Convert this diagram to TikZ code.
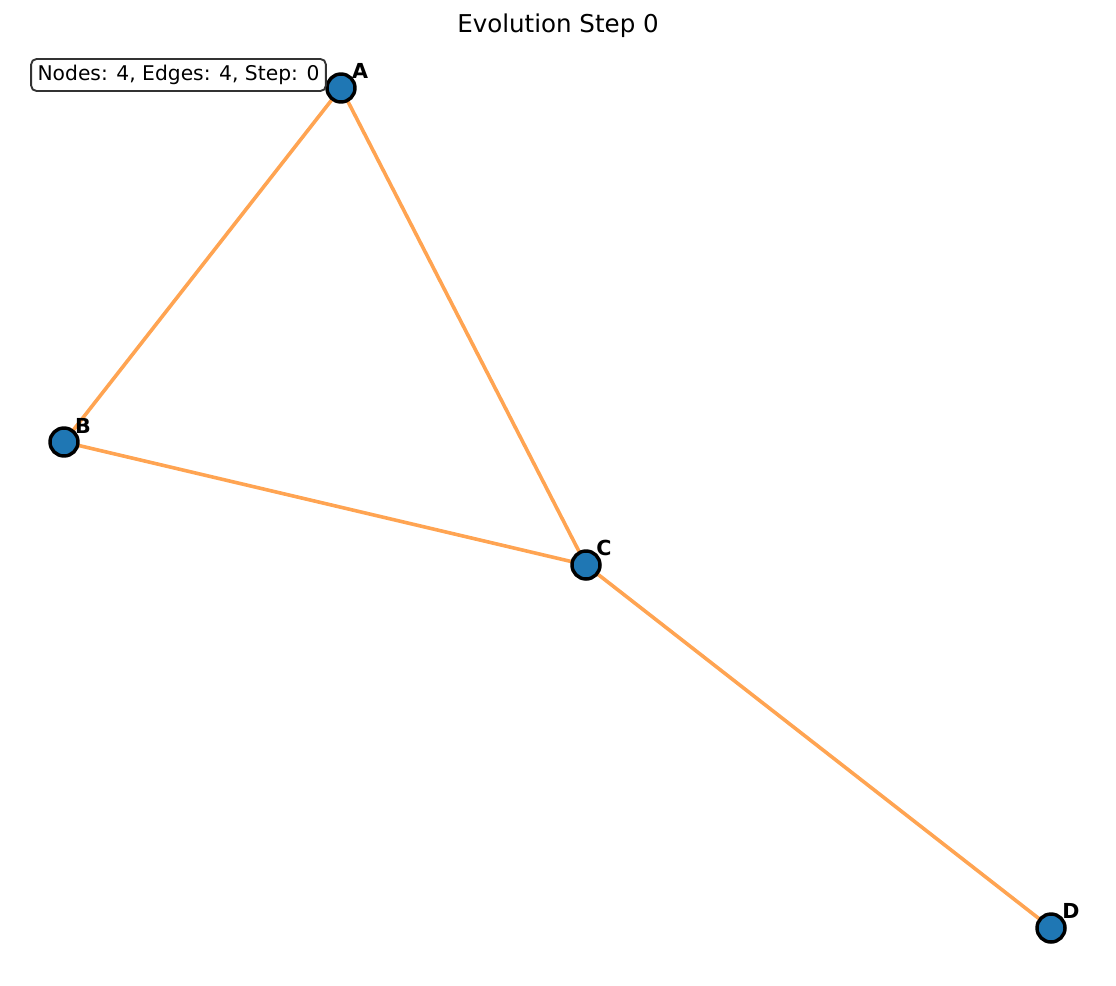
\documentclass[tikz,border=0pt]{standalone}
\usepackage{fontspec}
\setmainfont{DejaVu Sans}
\definecolor{nodeblue}{HTML}{1F77B4}
\definecolor{edgeorange}{HTML}{FFA452}
\definecolor{boxgray}{HTML}{333333}
\begin{document}
\begin{tikzpicture}[x=0.75pt,y=-0.75pt,
  vtx/.style={circle,draw=black,line width=2.6pt,fill=nodeblue,minimum size=21pt,inner sep=0pt},
  edge/.style={draw=edgeorange,line width=2.7pt},
  lbl/.style={font=\fontsize{15.5}{17}\selectfont\bfseries,inner sep=0pt}]
\useasboundingbox (0,0) rectangle (1116,985);
\node[font=\fontsize{18.4}{21}\selectfont] (title) at (558,26) {Evolution Step 0};
\coordinate (pA) at (341,88);
\coordinate (pB) at (64,442);
\coordinate (pC) at (586,565);
\coordinate (pD) at (1051,928);
\draw[edge] (pA) -- (pB);
\draw[edge] (pA) -- (pC);
\draw[edge] (pB) -- (pC);
\draw[edge] (pC) -- (pD);
\node[vtx] (A) at (pA) {};
\node[vtx] (B) at (pB) {};
\node[vtx] (C) at (pC) {};
\node[vtx] (D) at (pD) {};
\node[lbl] (lA) at (360,71) {A};
\node[lbl] (lB) at (83,426) {B};
\node[lbl] (lC) at (604,548) {C};
\node[lbl] (lD) at (1071,911) {D};
\node[draw=boxgray,fill=white,line width=1.4pt,rounded corners=4pt,inner sep=0pt,
  minimum width=221pt,minimum height=24pt,font=\fontsize{15.2}{17}\selectfont] (info) at (178.5,75) {Nodes: 4, Edges: 4, Step: 0};
\end{tikzpicture}
\end{document}
